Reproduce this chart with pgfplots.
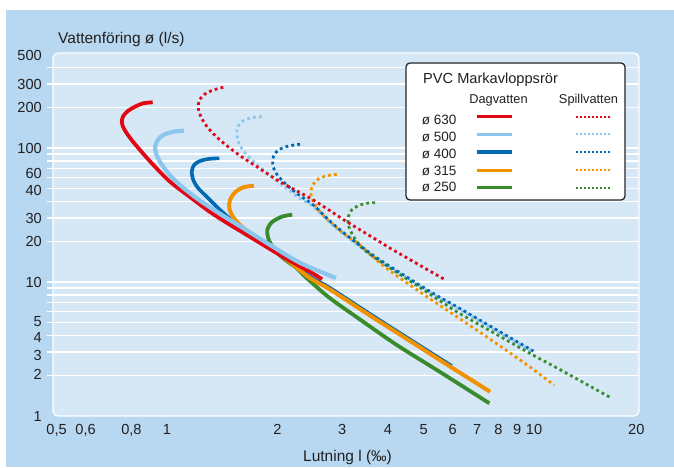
\documentclass[border=0pt]{standalone}
\usepackage{fontspec}
\setmainfont{Liberation Sans}
\usepackage{pgfplots}
\pgfplotsset{compat=1.18}
\definecolor{cA}{RGB}{227,6,19}
\definecolor{cB}{RGB}{140,198,236}
\definecolor{cC}{RGB}{0,105,180}
\definecolor{cD}{RGB}{243,146,0}
\definecolor{cE}{RGB}{58,139,44}
\definecolor{outerbg}{RGB}{183,216,240}
\definecolor{plotbg}{RGB}{214,232,246}
\definecolor{textc}{RGB}{35,31,32}
\tikzset{dotl/.style={line width=2.8pt, dash pattern=on 2.8pt off 3.2pt}}
\begin{document}
\begin{tikzpicture}
\useasboundingbox (0pt,0pt) rectangle (674pt,467pt);
\fill[white] (0pt,0pt) rectangle (674pt,467pt);
\fill[outerbg] (6pt,0pt) rectangle (674pt,457pt);
\begin{axis}[
  at={(53pt,51pt)}, anchor=south west,
  scale only axis, width=586pt, height=363pt,
  xmode=log, ymode=log,
  xmin=0.489, xmax=19.32, ymin=1, ymax=511.6,
  xtick={0.5,0.6,0.8,1,2,3,4,5,6,7,8,9,10,19.0},
  xticklabels={{0,5},{0,6},{0,8},1,2,3,4,5,6,7,8,9,10,20},
  minor xtick={},
  ytick={1,2.04,2.85,3.85,5.03,10,20,30,48.6,65,100,200,300,494},
  yticklabels={1,2,3,4,5,10,20,30,40,60,100,200,300,500},
  minor ytick={2,3,4,5,6,7,8,9,10,20,30,40,50,60,70,80,90,100,200,300,400},
  yminorgrids=true, xmajorgrids=false, ymajorgrids=false,
  minor grid style={white, line width=1.3pt},
  major tick length=0pt, minor tick length=6pt, tick align=outside,
  minor tick style={white, line width=1.3pt},
  ytick pos=left, xtick pos=bottom,
  axis line style={draw=none},
  axis background/.style={fill=plotbg, draw=white, line width=1.3pt, rounded corners=5pt},
  ticklabel style={font=\fontsize{14.6}{17}\selectfont, text=textc},
  yticklabel style={inner sep=0pt, xshift=-11pt},
  xticklabel style={inner sep=0pt, yshift=-8.5pt},
  /pgf/number format/assume math mode=true,
]
% Spillvatten (dotted)
\addplot[cB, dotl, smooth] coordinates {(1.811,171.2)(1.702,168.3)(1.614,159.9)(1.564,146.0)(1.549,128.8)(1.564,111.4)(1.614,95.5)(1.702,81.4)(1.830,68.5)(2.032,54.5)(2.304,42.1)(2.504,36.5)(2.834,26.5)(3.273,19.3)(3.805,14.3)(5.208,8.35)(6.158,6.43)(7.831,4.39)(9.956,3.0)};
\addplot[cD, dotl, smooth] coordinates {(2.900,63.6)(2.724,62.1)(2.584,58.7)(2.495,52.9)(2.464,45.9)(2.504,39.7)(2.612,33.5)(2.781,28.2)(3.022,23.1)(3.357,18.9)(3.885,13.2)(4.891,8.42)(6.158,5.51)(8.082,3.33)(9.856,2.27)(11.34,1.70)};
\addplot[cE, dotl, smooth] coordinates {(3.688,39.1)(3.500,38.7)(3.321,37.1)(3.186,34.5)(3.119,30.7)(3.119,26.6)(3.186,23.1)(3.321,19.4)(3.500,16.8)(3.926,13.5)(4.891,9.10)(6.158,6.00)(7.831,4.13)(9.752,2.93)(12.02,2.15)(16.28,1.356)};
\addplot[cC, dotl, smooth] coordinates {(2.304,106.6)(2.163,104.0)(2.053,99.5)(1.969,91.3)(1.941,81.4)(1.949,71.8)(1.998,62.9)(2.097,54.5)(2.256,45.9)(2.504,37.5)(2.834,27.1)(3.273,19.7)(3.805,14.6)(5.208,8.49)(6.158,6.54)(7.831,4.46)(9.956,3.05)};
\addplot[cA, dotl, smooth] coordinates {(1.423,283.8)(1.337,270.9)(1.269,252.9)(1.225,228.2)(1.217,197.8)(1.243,166.5)(1.296,140.3)(1.394,114.7)(1.549,91.3)(1.756,72.5)(2.032,56.0)(2.504,40.9)(3.088,28.2)(3.805,19.9)(4.137,17.3)(5.722,10.4)};
% Dagvatten (solid)
\addplot[cE, line width=3.8pt, smooth] coordinates {(2.194,31.8)(2.053,30.7)(1.929,27.9)(1.876,24.4)(1.888,21.2)(1.949,17.8)(2.075,15.0)(2.256,12.7)(2.351,11.3)(2.504,9.66)(2.781,7.56)(3.357,5.25)(4.226,3.39)(5.545,2.13)(7.556,1.244)};
\addplot[cC, line width=3.6pt, smooth] coordinates {(1.388,83.8)(1.296,82.8)(1.230,80.0)(1.185,74.7)(1.168,66.6)(1.179,57.7)(1.217,50.0)(1.283,43.3)(1.380,35.5)(1.516,28.2)(1.684,22.4)(1.909,18.0)(2.163,14.3)(2.453,10.98)(2.781,9.02)(3.573,5.77)(4.594,3.72)(5.968,2.36)};
\addplot[cD, line width=4pt, smooth] coordinates {(1.726,52.3)(1.614,50.9)(1.532,46.7)(1.485,40.9)(1.478,35.5)(1.516,30.4)(1.598,25.9)(1.737,21.8)(1.909,18.2)(2.163,14.1)(2.453,10.7)(2.781,8.79)(3.573,5.62)(4.594,3.63)(5.905,2.34)(7.590,1.518)};
\addplot[cA, line width=3.8pt, smooth] coordinates {(0.914,219.3)(0.862,215.6)(0.818,203.3)(0.784,189.8)(0.760,173.3)(0.753,157.1)(0.760,142.7)(0.777,128.8)(0.801,114.7)(0.844,96.6)(0.918,74.7)(1.019,56.0)(1.179,41.3)(1.310,33.3)(1.457,27.6)(1.684,21.7)(2.071,15.4)(2.453,11.9)(2.644,10.5)};
\addplot[cB, line width=4.2pt, smooth] coordinates {(1.113,134.6)(1.040,132.3)(0.977,125.0)(0.943,114.7)(0.928,102.3)(0.933,91.3)(0.957,79.0)(1.008,64.7)(1.085,52.9)(1.205,42.1)(1.366,33.5)(1.614,25.2)(1.909,18.9)(2.304,13.9)(2.887,10.7)};
\end{axis}
% axis titles
\node[anchor=base west, inner sep=0pt, text=textc, font=\fontsize{15.5}{18}\selectfont] at (58pt,423.7pt) {Vattenföring ø (l/s)};
\node[anchor=base west, inner sep=0pt, text=textc, font=\fontsize{15.5}{18}\selectfont] at (303pt,6pt) {Lutning l (‰)};
% legend box
\draw[black!85, line width=1.3pt, fill=white, rounded corners=4pt] (406pt,267pt) rectangle (625pt,404pt);
\node[anchor=base west, inner sep=0pt, text=textc, font=\fontsize{14.6}{17}\selectfont] at (423pt,383.7pt) {PVC Markavloppsrör};
\node[anchor=base, inner sep=0pt, text=textc, font=\fontsize{12.8}{15}\selectfont] at (498.5pt,363.7pt) {Dagvatten};
\node[anchor=base, inner sep=0pt, text=textc, font=\fontsize{12.8}{15}\selectfont] at (588.5pt,363.7pt) {Spillvatten};
\foreach \lab/\col/\yb/\ys in {630/cA/343/350.3, 500/cB/325.3/332.7, 400/cC/309/315, 315/cD/292/296.7, 250/cE/275.3/279.3}{
  \node[anchor=base west, inner sep=0pt, text=textc, font=\fontsize{13.5}{16}\selectfont] at (421.7pt,\yb pt) {ø \lab};
  \draw[\col, line width=3.3pt] (476.7pt,\ys pt) -- (512.3pt,\ys pt);
  \draw[\col, line width=2pt, dash pattern=on 2pt off 2pt] (576pt,\ys pt) -- (611pt,\ys pt);
}
\end{tikzpicture}
\end{document}
